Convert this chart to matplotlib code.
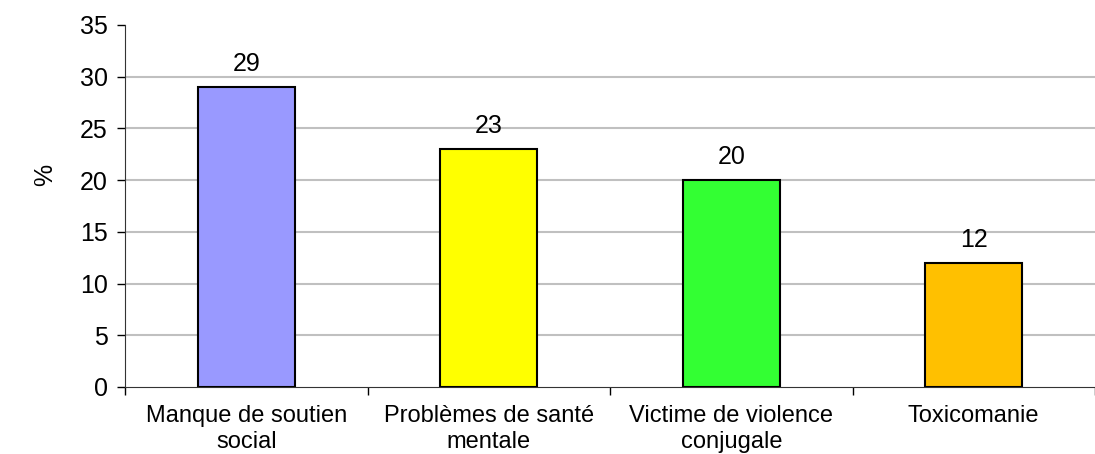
import matplotlib
matplotlib.use("Agg")
import matplotlib.pyplot as plt
import numpy as np

# data
categories = ["Manque de soutien\nsocial", "Problèmes de santé\nmentale",
              "Victime de violence\nconjugale", "Toxicomanie"]
values = [29, 23, 20, 12]
colors = ["#9999FF", "#FFFF00", "#33FF33", "#FFC000"]
yticks = [0, 5, 10, 15, 20, 25, 30, 35]

plt.rcParams['font.family'] = ['Liberation Sans', 'DejaVu Sans']

fig = plt.figure(figsize=(10.95, 4.54), dpi=100)
ax = fig.add_axes([125/1095, 1 - 387/454, 1 - 125/1095, (387 - 25)/454])

x = np.arange(len(categories))
bars = ax.bar(x, values, width=0.4, color=colors, edgecolor="black", linewidth=1.5, zorder=3)
for b, v in zip(bars, values):
    ax.text(b.get_x() + b.get_width()/2, v + 1.1, str(v), ha="center", va="bottom", fontsize=18)

ax.set_xlim(-0.5, len(categories) - 0.5)
ax.set_ylim(0, 35)
ax.set_yticks(yticks)
ax.tick_params(axis="y", labelsize=18, length=5.5, width=1, direction="out", pad=7)
for t in yticks[1:-1]:
    ax.axhline(t, color="#c0c0c0", linewidth=1.5, zorder=1)

# category labels centered, ticks at category boundaries
ax.set_xticks(x)
ax.set_xticklabels(categories, fontsize=17, linespacing=1.25)
ax.tick_params(axis="x", length=0, pad=13)
ax.set_xticks(np.arange(len(categories) + 1) - 0.5, minor=True)
ax.tick_params(axis="x", which="minor", length=6, width=1, direction="out")

for s in ["top", "right"]:
    ax.spines[s].set_visible(False)
ax.spines["left"].set_color("#333333")
ax.spines["bottom"].set_color("#333333")

fig.text(45/1095, 1 - 175/454, "%", rotation=90, ha="center", va="center", fontsize=18)

fig.savefig("out.png", dpi=100)
